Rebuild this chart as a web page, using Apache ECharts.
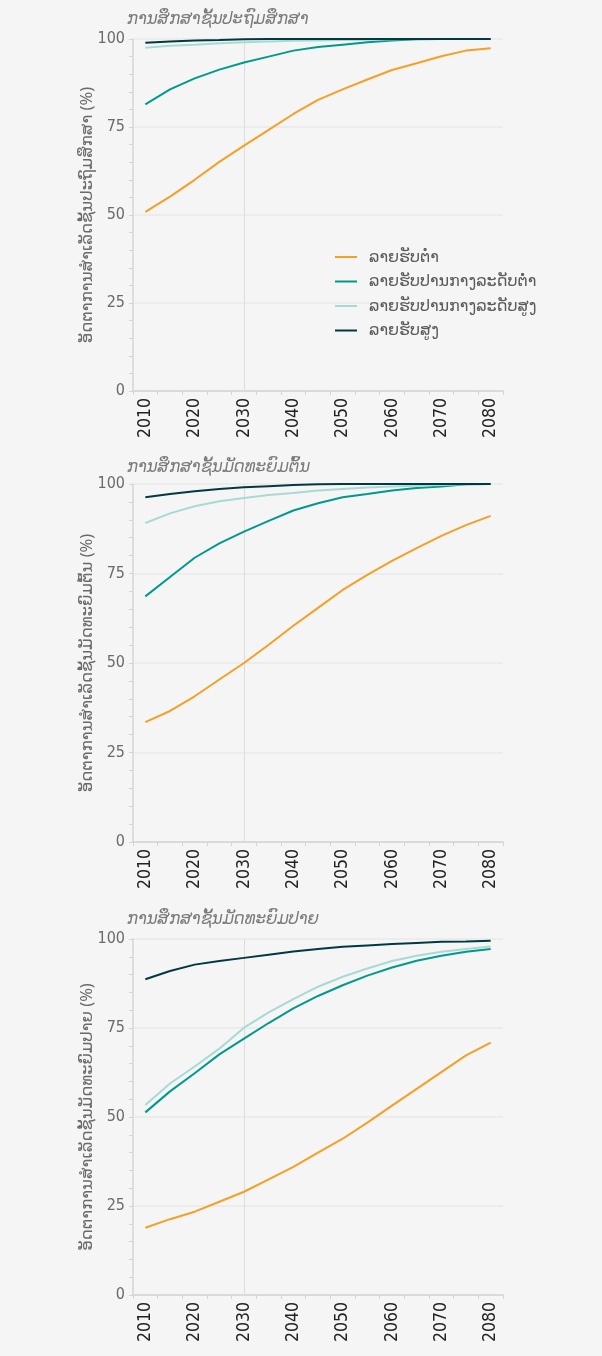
<!DOCTYPE html>
<html>
<head>
<meta charset="utf-8">
<script src="https://cdn.jsdelivr.net/npm/echarts@6/dist/echarts.min.js"></script>
<style>
  html, body { margin: 0; padding: 0; background: #f5f5f5; }
  #chart { width: 602px; height: 1356px; }
</style>
</head>
<body>
<div id="chart"></div>
<script>
// ---------- data ----------
const years = ['2010','2015','2020','2025','2030','2035','2040','2045','2050','2055','2060','2065','2070','2075','2080'];
const seriesNames = ['ລາຍຮັບຕ່ຳ', 'ລາຍຮັບປານກາງລະດັບຕ່ຳ', 'ລາຍຮັບປານກາງລະດັບສູງ', 'ລາຍຮັບສູງ'];
const panelTitles = ['ການສຶກສາຊັ້ນປະຖົມສຶກສາ', 'ການສຶກສາຊັ້ນມັດທະຍົມຕົ້ນ', 'ການສຶກສາຊັ້ນມັດທະຍົມປາຍ'];
const axisNames = ['ອັດຕາການສຳເລັດຊັ້ນປະຖົມສຶກສາ (%)', 'ອັດຕາການສຳເລັດຊັ້ນມັດທະຍົມຕົ້ນ (%)', 'ອັດຕາການສຳເລັດຊັ້ນມັດທະຍົມປາຍ (%)'];
const markYear = '2030';

// Primary
const low1    = [50.9, 55.2, 60.0, 65.1, 69.7, 74.2, 78.7, 82.7, 85.7, 88.5, 91.2, 93.1, 95.1, 96.7, 97.4];
const lowMid1 = [81.4, 85.7, 88.8, 91.3, 93.3, 95.0, 96.7, 97.7, 98.4, 99.1, 99.6, 99.9, 100, 100, 100];
const upMid1  = [97.5, 98.1, 98.4, 98.8, 99.1, 99.3, 99.5, 99.6, 99.7, 99.8, 99.9, 100, 100, 100, 100];
const high1   = [98.9, 99.3, 99.6, 99.7, 99.9, 100, 100, 100, 100, 100, 100, 100, 100, 100, 100];
// Lower secondary
const low2    = [33.5, 36.6, 40.7, 45.4, 50.0, 55.1, 60.4, 65.4, 70.4, 74.6, 78.5, 82.1, 85.5, 88.5, 91.1];
const lowMid2 = [68.6, 74.0, 79.4, 83.4, 86.7, 89.7, 92.6, 94.6, 96.3, 97.2, 98.2, 98.9, 99.3, 99.9, 100];
const upMid2  = [89.1, 91.8, 93.8, 95.2, 96.1, 96.9, 97.5, 98.2, 98.6, 99.0, 99.3, 99.5, 99.7, 99.9, 100];
const high2   = [96.3, 97.2, 98.0, 98.6, 99.1, 99.4, 99.7, 99.9, 100, 100, 100, 100, 100, 100, 100];
// Upper secondary
const low3    = [18.9, 21.3, 23.4, 26.2, 29.0, 32.5, 36.0, 40.0, 43.9, 48.4, 53.2, 57.9, 62.6, 67.3, 70.9];
const lowMid3 = [51.3, 57.2, 62.3, 67.6, 72.0, 76.4, 80.5, 84.0, 87.0, 89.7, 92.0, 93.9, 95.3, 96.4, 97.2];
const upMid3  = [53.4, 59.4, 64.2, 69.2, 75.1, 79.4, 83.1, 86.6, 89.4, 91.7, 93.8, 95.3, 96.4, 97.2, 97.9];
const high3   = [88.7, 91.0, 92.8, 93.8, 94.7, 95.6, 96.5, 97.2, 97.8, 98.2, 98.6, 98.9, 99.2, 99.3, 99.5];

const panels = [
  [low1, lowMid1, upMid1, high1],
  [low2, lowMid2, upMid2, high2],
  [low3, lowMid3, upMid3, high3]
];

// ---------- styles ----------
const colors = ['#F5A025', '#009A8C', '#A8DAD5', '#003A40'];
const FONT = "'Noto Sans', 'DejaVu Sans', sans-serif";
const NUMFONT = "'Liberation Sans Narrow', 'DejaVu Sans Condensed', 'Noto Sans', sans-serif";
const gridLayout = [
  { top: 39, height: 352 },
  { top: 484, height: 358 },
  { top: 939, height: 356 }
];
const titleTops = [6, 454, 906];

const chart = echarts.init(document.getElementById('chart'), null, { renderer: 'canvas' });

const grids = gridLayout.map(g => ({ left: 133, right: 99, top: g.top, height: g.height }));
const titles = panelTitles.map((t, i) => ({
  text: t, left: 122, top: titleTops[i], padding: [5, 5, 5, 5],
  textStyle: { fontFamily: FONT, fontStyle: 'italic', fontWeight: 'normal', fontSize: 16.5, color: '#7a7a7a' }
}));
const xAxes = panels.map((_, i) => ({
  type: 'category', gridIndex: i, data: years, boundaryGap: true,
  axisLine: { lineStyle: { color: '#d4d4d4', width: 1.5 } },
  axisTick: { show: true, interval: 0, length: 4, lineStyle: { color: '#d4d4d4' } },
  axisLabel: { interval: 1, rotate: 90, margin: 7, fontFamily: NUMFONT, fontSize: 17.5, color: '#222' },
  splitLine: { show: false }
}));
const yAxes = panels.map((_, i) => ({
  type: 'value', gridIndex: i, min: 0, max: 100, interval: 25,
  name: axisNames[i], nameLocation: 'middle', nameGap: 37, nameRotate: 90,
  nameMoveOverlap: false,
  nameTextStyle: { fontFamily: FONT, fontSize: 16.5, color: '#6a6a6a' },
  axisLine: { show: true, lineStyle: { color: '#d4d4d4', width: 1.5 } },
  axisTick: { show: true, length: 4, lineStyle: { color: '#d4d4d4' } },
  minorTick: { show: true, splitNumber: 5, length: 4, lineStyle: { color: '#d4d4d4' } },
  axisLabel: { margin: 8, fontFamily: NUMFONT, fontSize: 16, color: '#6a6a6a' },
  splitLine: { show: true, lineStyle: { color: '#e8e8e8', width: 1.5 } }
}));

const series = [];
panels.forEach((arrs, p) => {
  arrs.forEach((arr, k) => {
    const s = {
      name: seriesNames[k], type: 'line', xAxisIndex: p, yAxisIndex: p,
      data: arr, showSymbol: false, symbol: 'none', smooth: false,
      lineStyle: { color: colors[k], width: 2 }, itemStyle: { color: colors[k] },
      z: 3 + k
    };
    if (k === 0) {
      s.markLine = {
        silent: true, symbol: 'none', label: { show: false },
        lineStyle: { color: '#dcdcdc', width: 1, type: 'solid' },
        data: [{ xAxis: markYear }], z: 1
      };
    }
    series.push(s);
  });
});

chart.setOption({
  backgroundColor: '#f5f5f5',
  animation: false,
  title: titles,
  grid: grids,
  xAxis: xAxes,
  yAxis: yAxes,
  legend: {
    data: seriesNames, orient: 'vertical', left: 335, top: 249, padding: 0,
    icon: 'rect', itemWidth: 22, itemHeight: 2, itemGap: 8.5,
    textStyle: { fontFamily: FONT, fontSize: 16, color: '#5a5a5a', padding: [0, 0, 0, 7] }
  },
  series: series
});
</script>
</body>
</html>
